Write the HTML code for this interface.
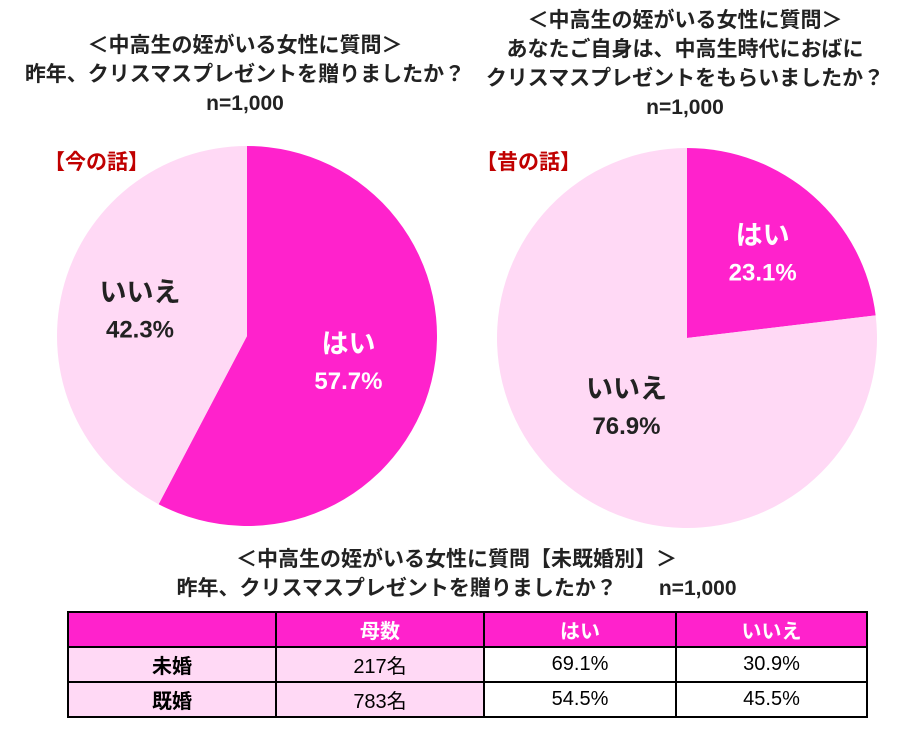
<!DOCTYPE html>
<html><head><meta charset="utf-8"><style>
body{margin:0;width:913px;height:744px;background:#fff;font-family:"Liberation Sans","Noto Sans CJK JP",sans-serif;overflow:hidden;position:relative}
.t{position:absolute;font-weight:bold;color:#222;text-align:center;font-size:21px;line-height:29px}
table{position:absolute;left:67px;top:611px;border-collapse:collapse;font-family:"Liberation Sans","Noto Sans CJK JP",sans-serif}
td{border:2px solid #000;height:33px;text-align:center;font-size:20px;color:#000;padding:0}
</style></head><body>
<div class="t" style="left:0;width:490px;top:31px">＜中高生の姪がいる女性に質問＞<br>昨年、クリスマスプレゼントを贈りましたか？<br>n=1,000</div>
<div class="t" style="left:440px;width:490px;top:6px">＜中高生の姪がいる女性に質問＞<br>あなたご自身は、中高生時代におばに<br>クリスマスプレゼントをもらいましたか？<br>n=1,000</div>
<div class="t" style="left:44px;top:148px;color:#c00000;text-align:left">【今の話】</div>
<div class="t" style="left:476px;top:148px;color:#c00000;text-align:left">【昔の話】</div>
<svg id="s" width="913" height="744" style="position:absolute;left:0;top:0"></svg>
<div class="t" style="left:0;width:913px;top:545px">＜中高生の姪がいる女性に質問【未既婚別】＞<br>昨年、クリスマスプレゼントを贈りましたか？　　n=1,000</div>
<table>
<tr style="background:#ff22cc;color:#fff;font-weight:bold"><td style="width:206px"></td><td style="width:206px;color:#fff">母数</td><td style="width:190px;color:#fff">はい</td><td style="width:189px;color:#fff">いいえ</td></tr>
<tr><td style="background:#ffd9f5;font-weight:bold">未婚</td><td style="background:#ffd9f5">217名</td><td>69.1%</td><td>30.9%</td></tr>
<tr><td style="background:#ffd9f5;font-weight:bold">既婚</td><td style="background:#ffd9f5">783名</td><td>54.5%</td><td>45.5%</td></tr>
</table>
<script>
const categories=["はい","いいえ"];
const nowValues=[57.7,42.3];
const pastValues=[23.1,76.9];
const colors=["#ff22cc","#ffd9f5"];
const s=document.getElementById('s');const NS='http://www.w3.org/2000/svg';
function pie(cx,cy,r,vals,labelPos,name){
 let a=0;const tot=vals.reduce((x,y)=>x+y,0);
 vals.forEach((v,i)=>{
  const a0=a/tot*2*Math.PI,a1=(a+v)/tot*2*Math.PI;a+=v;
  const x0=cx+r*Math.sin(a0),y0=cy-r*Math.cos(a0),x1=cx+r*Math.sin(a1),y1=cy-r*Math.cos(a1);
  const p=document.createElementNS(NS,'path');
  p.setAttribute('d',`M${cx},${cy}L${x0},${y0}A${r},${r} 0 ${a1-a0>Math.PI?1:0} 1 ${x1},${y1}Z`);
  p.setAttribute('fill',colors[i]);
  
  
  s.appendChild(p);
  const am=(a0+a1)/2,rr=r*labelPos[i];
  const lx=cx+rr*Math.sin(am),ly=cy-rr*Math.cos(am);
  [[categories[i],-8],[v.toFixed(1)+'%',28]].forEach(([txt,dy],k)=>{
   const t=document.createElementNS(NS,'text');
   t.setAttribute('x',lx);t.setAttribute('y',ly+dy);t.setAttribute('text-anchor','middle');
   t.setAttribute('font-size',k?'24':'27');t.setAttribute('font-weight','bold');
   t.setAttribute('fill',i===0?'#fff':'#222');t.textContent=txt;
   
   
   s.appendChild(t);
  });
 });
}
pie(247,336,190,nowValues,[0.55,0.58],'now-pie');
pie(687,338,190,pastValues,[0.6,0.48],'past-pie');
</script>
</body></html>
